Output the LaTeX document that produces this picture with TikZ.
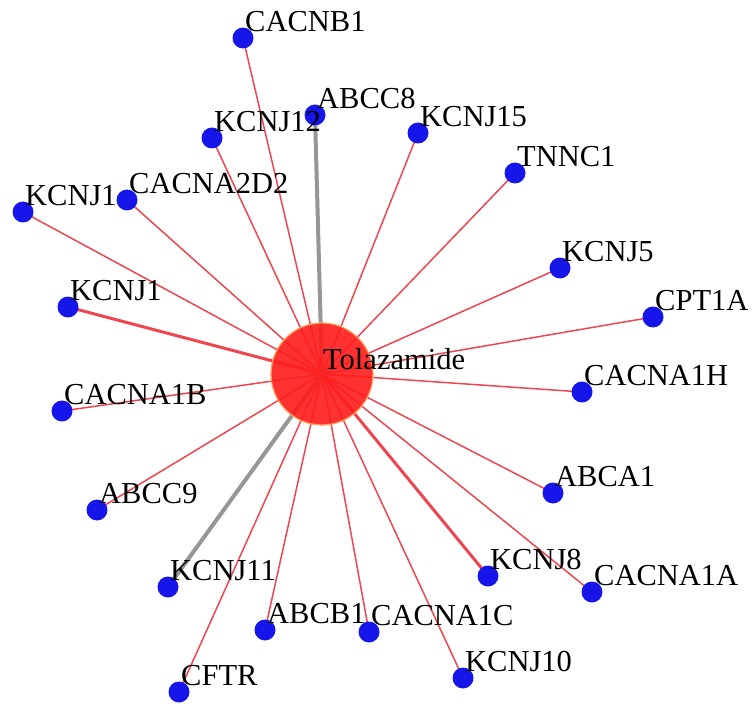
\documentclass[tikz,border=0pt]{standalone}
\usepackage{fontspec}
\setmainfont{Liberation Serif}
\usetikzlibrary{backgrounds}
\definecolor{hubred}{RGB}{255,28,28}
\definecolor{hubrim}{RGB}{255,160,90}
\definecolor{nodeblue}{RGB}{22,22,235}
\definecolor{linkred}{RGB}{238,70,80}
\definecolor{linkgrey}{RGB}{150,150,150}
\begin{document}
\begin{tikzpicture}[x=1pt,y=-1pt,
  gene/.style={circle,fill=nodeblue,inner sep=0pt,minimum size=21pt},
  hubnode/.style={circle,fill=hubred,fill opacity=0.9,draw=hubrim,line width=1.2pt,inner sep=0pt,minimum size=102pt},
  link/.style={draw=linkred,line width=1.5pt},
  stronglink/.style={draw=linkred,line width=3pt},
  greylink/.style={draw=linkgrey,line width=4pt},
  genelabel/.style={anchor=base west,inner sep=0pt,text=black,font=\fontsize{30.5}{36}\selectfont}]
\useasboundingbox (0,0) rectangle (753,706);

% drug hub
\node[hubnode] (hub) at (322,374) {};

% gene nodes: name / x / y
\foreach \n/\x/\y in {
  CACNB1/243/38, ABCC8/315/115, KCNJ12/212/138, KCNJ15/418/133,
  TNNC1/515/173, KCNJ1a/23/212, CACNA2D2/127/200, KCNJ5/560/268,
  KCNJ1b/68/307, CPT1A/653/317, CACNA1H/582/392, CACNA1B/62/411,
  ABCA1/553/493, ABCC9/97/510, KCNJ8/488/576, CACNA1A/592/592,
  KCNJ11/168/587, ABCB1/265/630, CACNA1C/369/632, KCNJ10/463/678,
  CFTR/179/692}
  \node[gene] (\n) at (\x,\y) {};

% connectors to the hub, kept underneath
\begin{pgfonlayer}{background}
  \foreach \n in {CACNB1, KCNJ12, KCNJ15, TNNC1, KCNJ1a, CACNA2D2, KCNJ5,
    CPT1A, CACNA1H, CACNA1B, ABCA1, ABCC9, CACNA1A, ABCB1, CACNA1C,
    KCNJ10, CFTR}
    \draw[link] (hub.center) -- (\n.center);
  \draw[stronglink] (hub.center) -- (KCNJ1b.center);
  \draw[stronglink] (hub.center) -- (KCNJ8.center);
  \draw[greylink] (hub.center) -- (ABCC8.center);
  \draw[greylink] (hub.center) -- (KCNJ11.center);
\end{pgfonlayer}

% labels
\foreach \n/\t in {
  CACNB1/CACNB1, ABCC8/ABCC8, KCNJ12/KCNJ12, KCNJ15/KCNJ15,
  TNNC1/TNNC1, KCNJ1a/KCNJ1, CACNA2D2/CACNA2D2, KCNJ5/KCNJ5,
  KCNJ1b/KCNJ1, CPT1A/CPT1A, CACNA1H/CACNA1H, CACNA1B/CACNA1B,
  ABCA1/ABCA1, ABCC9/ABCC9, KCNJ8/KCNJ8, CACNA1A/CACNA1A,
  KCNJ11/KCNJ11, ABCB1/ABCB1, CACNA1C/CACNA1C, KCNJ10/KCNJ10,
  CFTR/CFTR}
  \node[genelabel] (\n-t) at ([shift={(2,-6.5)}]\n.center) {\t};

\node[genelabel] (hub-t) at ([shift={(1,-5)}]hub.center) {Tolazamide};
\end{tikzpicture}
\end{document}
